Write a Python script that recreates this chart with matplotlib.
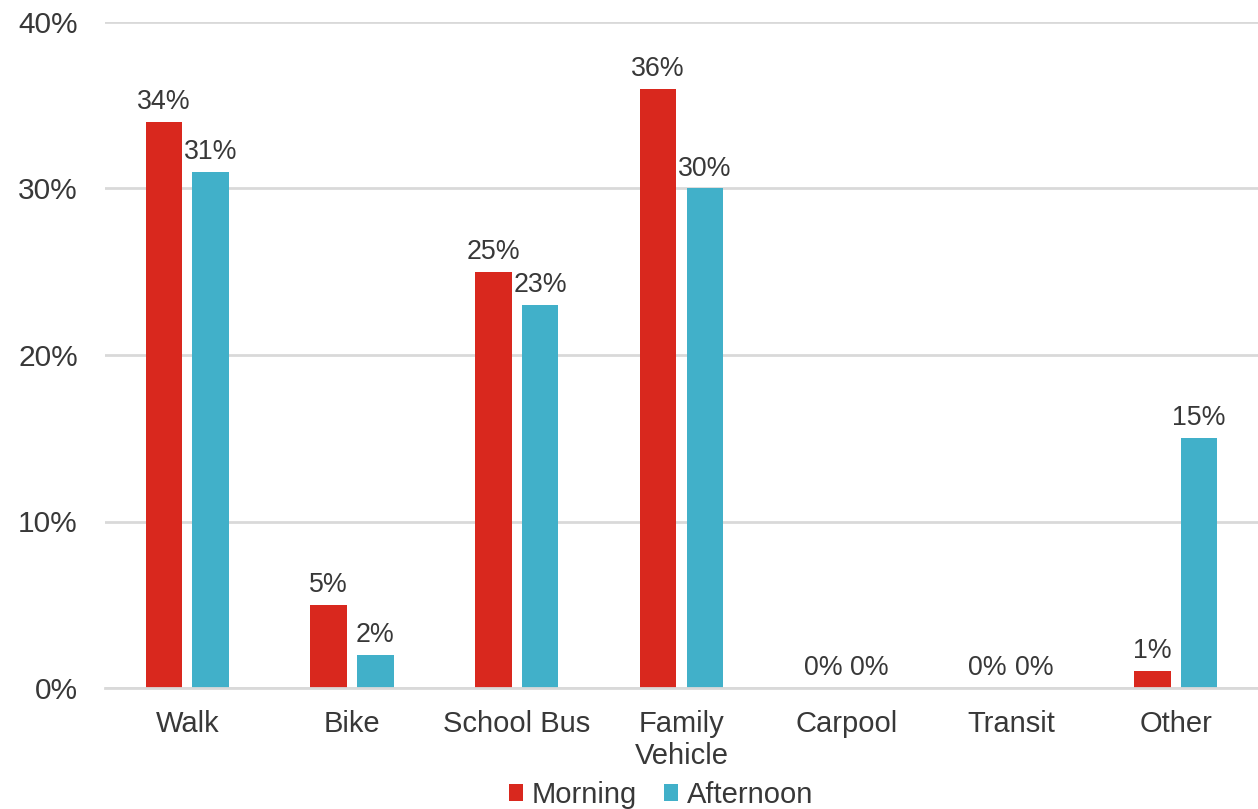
import matplotlib
matplotlib.use("Agg")
import matplotlib.pyplot as plt
import numpy as np

# data
categories = ["Walk", "Bike", "School Bus", "Family\nVehicle", "Carpool", "Transit", "Other"]
morning = [34, 5, 25, 36, 0, 0, 1]
afternoon = [31, 2, 23, 30, 0, 0, 15]
series_names = ["Morning", "Afternoon"]

plt.rcParams['font.family'] = ['Liberation Sans', 'DejaVu Sans']
text_color = '#383838'
red = '#D9281E'
blue = '#41B0C9'

fig = plt.figure(figsize=(12.58, 8.09), dpi=100)
ax = fig.add_axes([105 / 1258, 1 - 688 / 809, 1153 / 1258, 666 / 809])

x = np.arange(len(categories))
width = 0.222
offset = 0.142

bars_m = ax.bar(x - offset, morning, width, color=red, label=series_names[0], zorder=3)
bars_a = ax.bar(x + offset, afternoon, width, color=blue, label=series_names[1], zorder=3)

# value labels above each bar
for bars in (bars_m, bars_a):
    for b in bars:
        h = b.get_height()
        ax.annotate(f"{h:.0f}%", (b.get_x() + b.get_width() / 2, h),
                    xytext=(0, 5), textcoords='offset points',
                    ha='center', va='bottom', fontsize=19.3, color=text_color)

ax.set_xlim(-0.5, len(categories) - 0.5)
ax.set_ylim(0, 40)
ax.set_yticks([0, 10, 20, 30, 40])
ax.set_yticklabels([f"{v}%" for v in [0, 10, 20, 30, 40]])
ax.set_xticks(x)
ax.set_xticklabels(categories, linespacing=1.2)

ax.tick_params(axis='y', length=0, pad=19.5, labelsize=21.5, labelcolor=text_color)
ax.tick_params(axis='x', length=0, pad=15.5, labelsize=21, labelcolor=text_color)

ax.grid(axis='y', color='#d9d9d9', linewidth=2, zorder=0)
for side in ['top', 'right', 'left']:
    ax.spines[side].set_visible(False)
ax.spines['bottom'].set_color('#d9d9d9')
ax.spines['bottom'].set_linewidth(2)
ax.spines['bottom'].set_zorder(4)

leg = fig.legend(loc='center', bbox_to_anchor=(661 / 1258, 1 - 795 / 809),
                 ncol=2, frameon=False, fontsize=21, handlelength=0.5, handleheight=0.5,
                 handletextpad=0.3, columnspacing=0.9, borderpad=0)
for t in leg.get_texts():
    t.set_color(text_color)

fig.savefig("out.png", dpi=100)
